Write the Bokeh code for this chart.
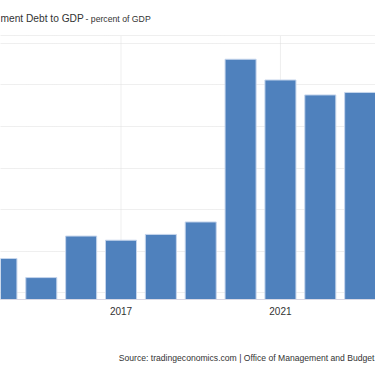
from bokeh.plotting import figure
from bokeh.models import Range1d, FixedTicker, Label
from bokeh.embed import file_html
from bokeh.resources import INLINE

# ---- data ----
years = [2014, 2015, 2016, 2017, 2018, 2019, 2020, 2021, 2022, 2023]
debt_to_gdp = [109.1, 106.8, 111.8, 111.3, 112.0, 113.5, 133.1, 130.6, 128.8, 129.1]
x_tick_years = [2017, 2021]
grid_years = [2017, 2021]
y_grid_values = [105, 110, 115, 120, 125, 130, 135]

title_text = "ment Debt to GDP"
subtitle_text = "- percent of GDP"
source_text = "Source: tradingeconomics.com | Office of Management and Budget"

FONT = "Liberation Sans"
BAR_COLOR = "#4F81BD"
GRID_COLOR = "#dedede"

# value axis: plot area spans y_base..y_top; canvas extends beyond for title/source
y_base, y_top = 104.16, 135.96
p = figure(width=375, height=366, output_backend="svg", toolbar_location=None,
           x_range=Range1d(2013.9769, 2023.3848), y_range=Range1d(96.09, 140.176),
           min_border=0, y_axis_location=None)
p.outline_line_color = None
p.background_fill_color = "white"
p.border_fill_color = "white"

p.ygrid.ticker = FixedTicker(ticks=y_grid_values + [y_top])
p.ygrid.grid_line_color = GRID_COLOR
p.ygrid.grid_line_dash = "1 1"
p.xgrid.visible = False
p.segment(x0=grid_years, y0=[y_base] * len(grid_years), x1=grid_years,
          y1=[y_top] * len(grid_years), line_color=GRID_COLOR, line_dash="1 1", line_width=1)

p.vbar(x=years, top=debt_to_gdp, bottom=y_base, width=0.778,
       fill_color=BAR_COLOR, line_color="#c5d5ec", line_width=1)

ax = p.xaxis[0]
ax.fixed_location = y_base
ax.ticker = FixedTicker(ticks=x_tick_years)
ax.major_tick_line_color = None
ax.major_tick_out = 0
ax.major_tick_in = 0
ax.minor_tick_line_color = None
ax.axis_line_color = "#d8d8e4"
ax.major_label_text_font = FONT
ax.major_label_text_font_size = "10px"
ax.major_label_text_color = "#333333"
ax.major_label_standoff = 7

p.add_layout(Label(x=0, y=348, x_units="screen", y_units="screen", text=title_text,
                   text_align="left", text_baseline="alphabetic", text_font=FONT,
                   text_font_size="10.2px", text_color="#333333"))
p.add_layout(Label(x=85, y=348, x_units="screen", y_units="screen", text=subtitle_text,
                   text_align="left", text_baseline="alphabetic", text_font=FONT,
                   text_font_size="8.7px", text_color="#333333"))
p.add_layout(Label(x=374, y=9, x_units="screen", y_units="screen", text=source_text,
                   text_align="right", text_baseline="alphabetic", text_font=FONT,
                   text_font_size="8.6px", text_color="#333333"))

open("out.html", "w").write(file_html(p, INLINE))
